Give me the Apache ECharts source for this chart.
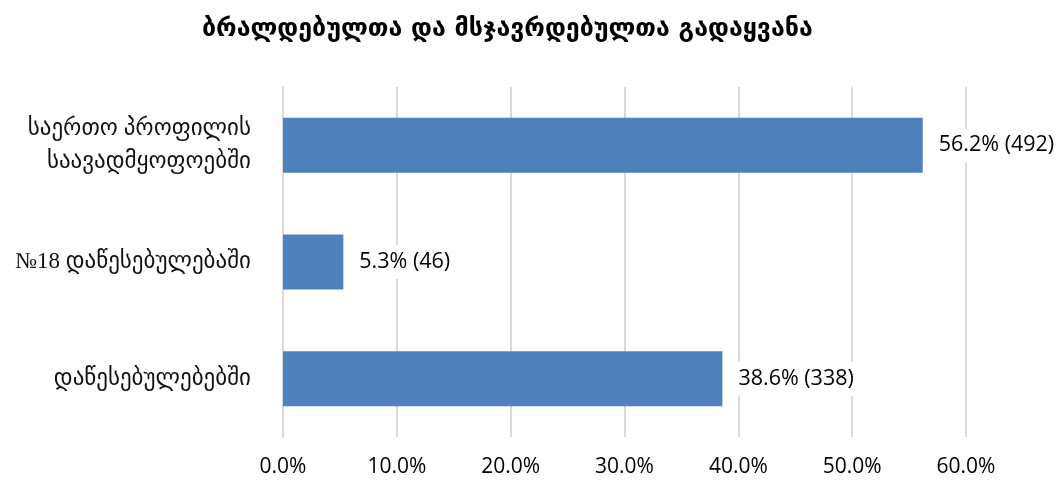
<!doctype html>
<html>
<head>
<meta charset="utf-8">
<title>გადაყვანა</title>
<script src="https://cdn.jsdelivr.net/npm/echarts@6/dist/echarts.min.js"></script>
<style>
    body{margin:0;background:#fff;}
    #chart{width:1062px;height:483px;}
</style>
</head>
<body>
<div id="chart"></div>
<script type="text/javascript">
    // data
    var categories = ['საერთო პროფილის\nსაავადმყოფოებში', '№18 დაწესებულებაში', 'დაწესებულებებში'];
    var percents = [56.2, 5.3, 38.6];
    var counts = [492, 46, 338];
    var xTicks = [0, 10, 20, 30, 40, 50, 60];

    var chart = echarts.init(document.getElementById('chart'));
    var option = {
        title: {
            text: 'ბრალდებულთა და მსჯავრდებულთა გადაყვანა',
            left: 197,
            top: 12,
            textStyle: {fontFamily: 'DejaVu Sans', fontSize: 25, fontWeight: 'bold', color: '#000'}
        },
        grid: {left: 283, right: 96, top: 87, bottom: 46, containLabel: false},
        xAxis: {
            type: 'value',
            min: xTicks[0],
            max: xTicks[xTicks.length - 1],
            interval: 10,
            axisLine: {show: false},
            axisTick: {show: false},
            splitLine: {lineStyle: {color: '#d9d9d9', width: 2}},
            axisLabel: {
                margin: 20,
                fontFamily: 'Open Sans',
                fontSize: 21,
                color: '#000',
                formatter: function (v) { return v.toFixed(1) + '%'; }
            }
        },
        yAxis: {
            type: 'category',
            inverse: true,
            data: categories,
            axisLine: {lineStyle: {color: '#d9d9d9', width: 2}},
            axisTick: {length: 7, lineStyle: {color: '#d9d9d9', width: 2}},
            axisLabel: {
                margin: 32,
                fontFamily: 'Liberation Serif, DejaVu Sans',
                fontSize: 23,
                lineHeight: 33,
                color: '#111',
                align: 'right'
            }
        },
        series: [{
            type: 'bar',
            data: percents,
            barWidth: 55,
            itemStyle: {color: '#4f81bd'},
            label: {
                show: true,
                position: 'right',
                distance: 10,
                backgroundColor: '#fff',
                padding: [6, 6],
                fontFamily: 'Open Sans',
                fontSize: 21.5,
                color: '#000',
                formatter: function (p) { return p.value.toFixed(1) + '% (' + counts[p.dataIndex] + ')'; }
            }
        }]
    };
    chart.setOption(option);
</script>
</body>
</html>
